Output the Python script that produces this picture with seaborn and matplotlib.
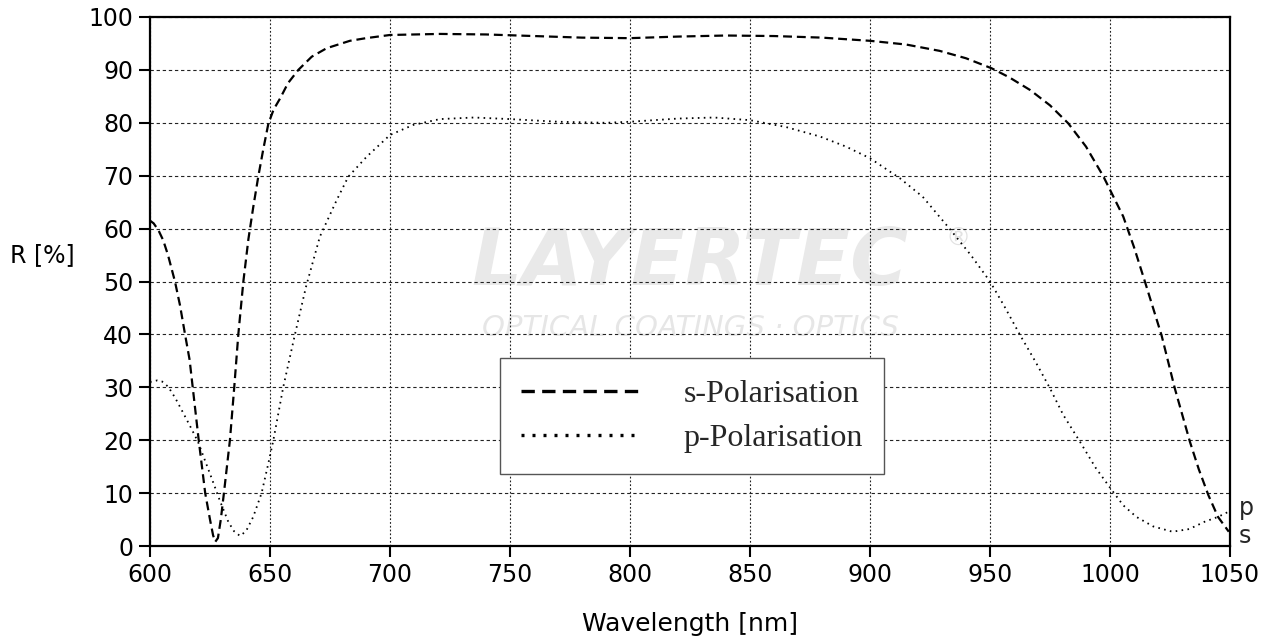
import matplotlib
matplotlib.use("Agg")
import matplotlib.pyplot as plt
import seaborn as sns
import pandas as pd

# ---- data ----
s_wl = [600, 601.5, 603.5, 605.5, 607.5, 610.4, 612.5, 614.6, 616.5, 617.8, 620.3, 623, 625,
        626.3, 627.2, 628.3, 629.5, 630.8, 633.3, 635.1, 636.8, 638.9, 641, 643, 645.1, 647.2,
        649.3, 651.5, 654.2, 657.5, 661.8, 667.4, 673.6, 683.3, 690, 700, 720.8, 740, 760, 780,
        800, 820, 840, 860, 880, 900, 915, 929, 940, 950.7, 958, 966.7, 975, 982.6, 990, 997.2,
        1005.5, 1010, 1014.6, 1021.5, 1027, 1033.3, 1037, 1041, 1045, 1049.5]
s_R = [61.5, 61, 59.7, 57.8, 55, 50, 45.5, 40, 35.2, 30, 20, 10, 5,
       2, 0.8, 1.5, 5, 10, 20, 30, 40, 50, 58, 64, 69.8, 75,
       79.8, 82.5, 84.6, 87.5, 90, 92.5, 94.1, 95.5, 96, 96.6, 96.8, 96.7, 96.4, 96.1,
       96, 96.3, 96.5, 96.4, 96.1, 95.5, 94.8, 93.6, 92.2, 90.3, 88.6, 86.2, 83.3, 79.9, 75.5, 69.9,
       62.3, 56.5, 49.9, 39.8, 29.8, 19.7, 14.5, 9.6, 5.5, 2.7]

p_wl = [600, 603, 605, 607.6, 610.5, 613.9, 617, 620, 622.8, 625.7, 629, 632.6, 635, 637.5,
        640, 643, 646.5, 649.3, 651.4, 655.5, 660.4, 665, 670.8, 677.8, 682.6, 690.3, 700,
        709.7, 720.8, 735, 750, 770, 790, 800, 820, 835, 850, 865, 879.2, 890, 900, 912.5,
        922, 933.3, 942, 950, 956, 962.5, 969, 975, 980.5, 987.5, 994, 1000.7, 1005.5, 1011,
        1018, 1026, 1033, 1039.5, 1045, 1049.5]
p_R = [31, 31.3, 31.1, 30.1, 28, 25.1, 22.4, 19.7, 16.3, 12.8, 8.7, 4.6, 2.8, 1.9,
       2.8, 5.5, 10, 15.6, 20, 30, 40, 49, 58.5, 65.4, 69.8, 73.6, 77.7,
       79.6, 80.7, 81, 80.7, 80.2, 80, 80.2, 80.8, 81, 80.5, 79.2, 77.4, 75.5, 73.3, 69.5,
       66, 59.9, 55, 50, 45.3, 39.9, 34.8, 29.8, 24.8, 19.7, 14.8, 10.6, 7.7, 5.5,
       3.7, 2.7, 3.2, 4.6, 5.5, 6.5]

series_labels = ["s-Polarisation", "p-Polarisation"]
x_ticks = [600, 650, 700, 750, 800, 850, 900, 950, 1000, 1050]
y_ticks = [0, 10, 20, 30, 40, 50, 60, 70, 80, 90, 100]

sns.set_theme(style="white")
plt.rcParams['font.family'] = ['DejaVu Sans']

fig = plt.figure(figsize=(12.76, 6.38), dpi=100)
ax = fig.add_axes([150/1276, 92/638, 1080/1276, 529/638])

df_s = pd.DataFrame({"wl": s_wl, "R": s_R})
df_p = pd.DataFrame({"wl": p_wl, "R": p_R})

sns.lineplot(data=df_s, x="wl", y="R", ax=ax, color="black", lw=1.6,
             linestyle=(0, (4, 2.2)), label=series_labels[0], sort=False, estimator=None, zorder=4)
sns.lineplot(data=df_p, x="wl", y="R", ax=ax, color="black", lw=1.3,
             linestyle=(0, (0.9, 2.4)), label=series_labels[1], sort=False, estimator=None, zorder=4)

ax.set_xlim(600, 1050)
ax.set_ylim(0, 100)
ax.set_xticks(x_ticks)
ax.set_yticks(y_ticks)
ax.tick_params(axis="both", direction="out", length=8, width=1.5, colors="black",
               labelsize=17, left=True, bottom=True, pad=4)

for sp in ax.spines.values():
    sp.set_visible(True)
    sp.set_color("black")
    sp.set_linewidth(1.6)

ax.xaxis.grid(True, color="#222222", lw=0.8, linestyle=(0, (1.6, 1.8)))
ax.yaxis.grid(True, color="#222222", lw=0.8, linestyle=(0, (3, 2.5)))
ax.set_axisbelow("line")

ax.set_xlabel("Wavelength [nm]", fontsize=18, color="black", labelpad=18)
ax.set_ylabel("")
fig.text(10/1276, 1 - 255/638, "R [%]", fontsize=17, va="center", ha="left", color="black")

# watermark
ax.text(0.5, 0.535, "LAYERTEC", transform=ax.transAxes, fontsize=57, fontweight="heavy",
        fontstyle="italic", color="#e9e9e9", ha="center", va="center", zorder=0.5)
ax.text(0.5, 0.413, "OPTICAL COATINGS \u00b7 OPTICS", transform=ax.transAxes, fontsize=21,
        fontstyle="italic", fontweight="light", color="#e6e6e6", ha="center", va="center", zorder=0.5)
ax.text(0.748, 0.58, "\u00ae", transform=ax.transAxes, fontsize=18, color="#e2e2e2",
        ha="center", va="center", zorder=0.5)

# end labels
ax.text(1.008, 7.2, "p", transform=ax.get_yaxis_transform(), fontsize=17, va="center", ha="left")
ax.text(1.008, 1.8, "s", transform=ax.get_yaxis_transform(), fontsize=17, va="center", ha="left")

leg = ax.legend(loc="lower left", bbox_to_anchor=(0.324, 0.136), frameon=True, fancybox=False,
                prop={"family": "Liberation Serif", "size": 23}, handlelength=3.8,
                handletextpad=1.3, labelspacing=0.46, borderpad=0.66, borderaxespad=0,
                framealpha=1, edgecolor="#555555")
leg.get_frame().set_linewidth(1.0)
leg.set_zorder(5)
for h in leg.get_lines():
    h.set_linewidth(2.4)

fig.savefig("out.png", dpi=100)
